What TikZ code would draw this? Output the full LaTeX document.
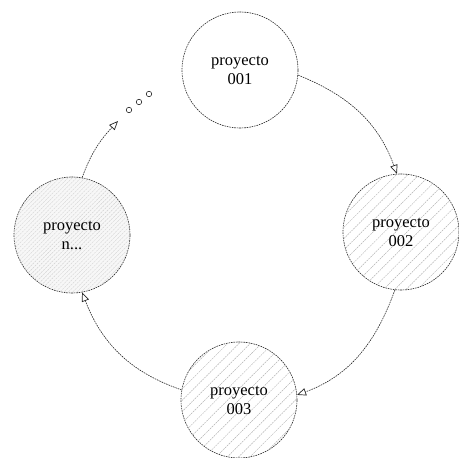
\documentclass[tikz,border=0pt]{standalone}
\usepackage{fontspec}
\setmainfont{Liberation Serif}
\usetikzlibrary{arrows.meta,patterns.meta}
\begin{document}
\begin{tikzpicture}[x=1pt,y=1pt,
  edge/.style={draw=black!85,line width=0.6pt,dash pattern=on 1.6pt off 0.9pt},
  proj/.style={circle,edge,minimum size=116pt,inner sep=0pt,align=center,
    font=\fontsize{16.5}{19}\selectfont},
  hatched/.style={postaction={pattern={Lines[angle=45,distance=8pt,line width=0.5pt]},pattern color=black!30}},
  finehatched/.style={fill=black!3,postaction={pattern={Lines[angle=45,distance=3pt,line width=0.4pt]},pattern color=black!18}},
  flow/.style={edge,-{Triangle[open,length=9pt,width=7.5pt,line width=0.7pt]}},
  dot/.style={circle,draw=black!85,line width=0.6pt,minimum size=5.5pt,inner sep=0pt}]
\useasboundingbox (0,0) rectangle (459,458);

% project nodes around the cycle
\node[proj] (p1) at (240,388) {proyecto\\001};
\node[proj,hatched] (p2) at (401,226) {proyecto\\002};
\node[proj,hatched] (p3) at (239,58) {proyecto\\003};
\node[proj,finehatched] (pn) at (72,223) {proyecto\\n...};

% open end of the cycle with continuation marks
\coordinate (cont) at (118,337);
\node[dot] (d1) at (129,348) {};
\node[dot] (d2) at (139,356) {};
\node[dot] (d3) at (149,364) {};

% cycle arrows
\draw[flow] (p1.-5)  to[out=-22,in=110]  (p2.94);
\draw[flow] (p2.-96) to[out=-110,in=20]  (p3.5);
\draw[flow] (p3.170) to[out=161,in=-69]  (pn.-80);
\draw[flow] (pn.80)  to[out=70,in=227]   (cont);
\end{tikzpicture}
\end{document}
